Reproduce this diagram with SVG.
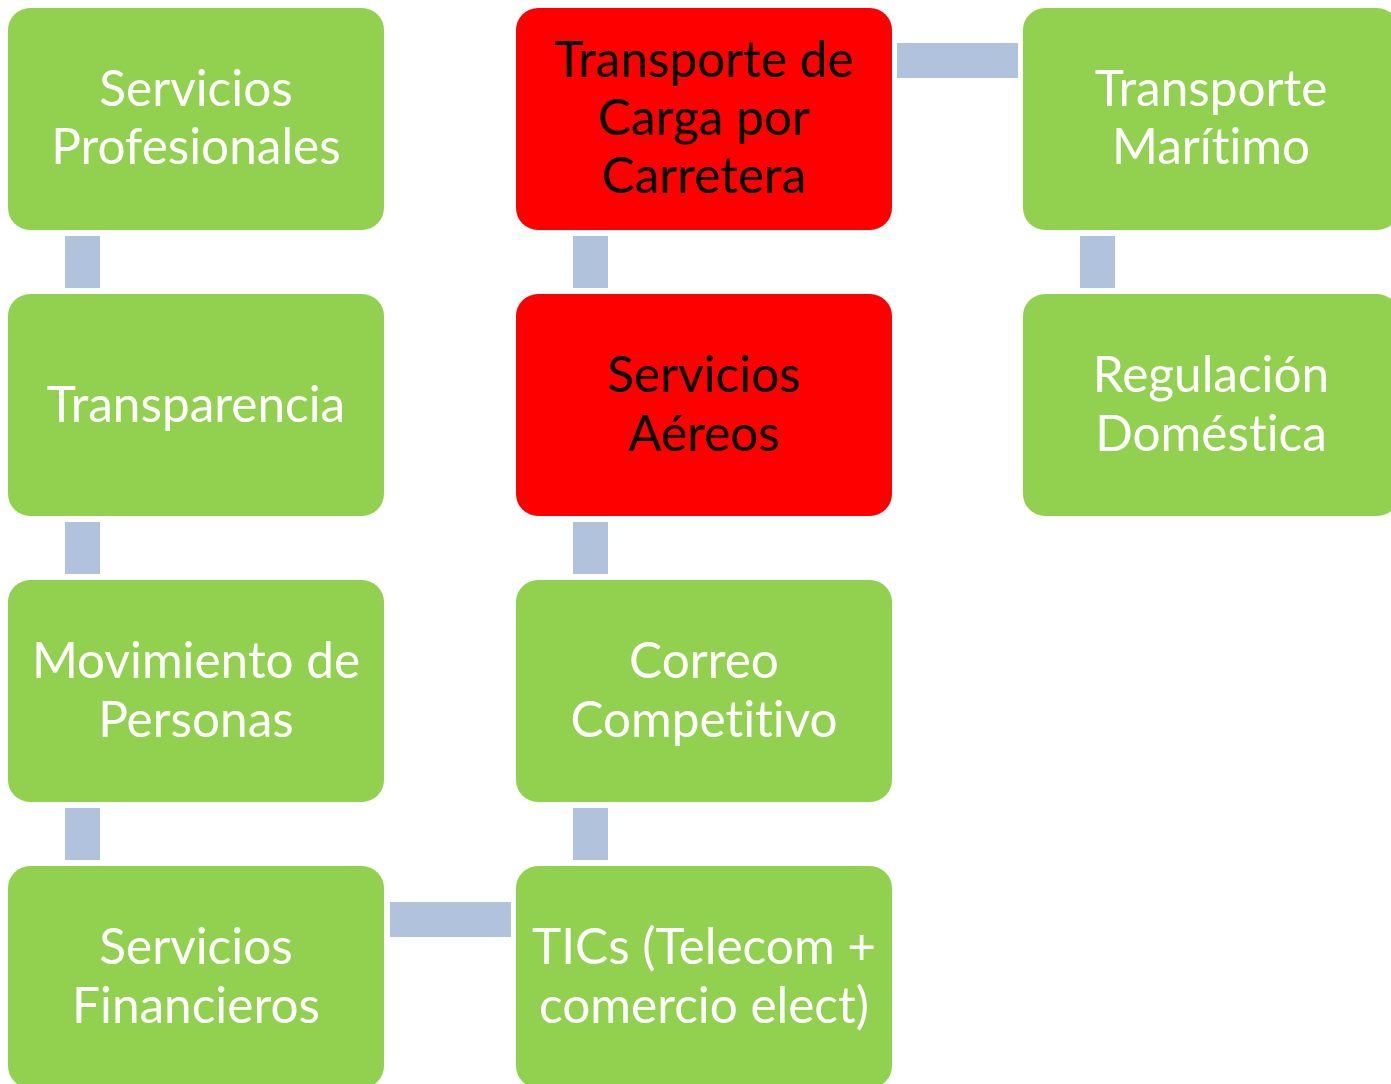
<svg xmlns="http://www.w3.org/2000/svg" width="1391" height="1084" viewBox="0 0 1391 1084">
<style>
.g{fill:#92D050}
.r{fill:#FF0000}
.c{fill:#B1C2DC}
text{font-family:Lato,"Liberation Sans",sans-serif;font-size:49.5px;text-anchor:middle;font-variant-ligatures:none;font-feature-settings:"liga" 0}
.w{fill:#FFFFFF}
.k{fill:#000000}
</style>
<rect width="1391" height="1084" fill="#FFFFFF"/>
<g id="connectors">
<rect class="c" x="65" y="236" width="35" height="52"/>
<rect class="c" x="65" y="522" width="35" height="52"/>
<rect class="c" x="65" y="808" width="35" height="52"/>
<rect class="c" x="573" y="236" width="35" height="52"/>
<rect class="c" x="573" y="522" width="35" height="52"/>
<rect class="c" x="573" y="808" width="35" height="52"/>
<rect class="c" x="1080" y="236" width="35" height="52"/>
<rect class="c" x="897" y="43" width="121" height="35"/>
<rect class="c" x="390" y="902" width="121" height="35"/>
</g>
<g id="n1"><rect class="g" x="8" y="8" width="376" height="222" rx="22"/>
<text class="w" x="196" y="106">Servicios</text><text class="w" x="196" y="164">Profesionales</text></g>
<g id="n2"><rect class="g" x="8" y="294" width="376" height="222" rx="22"/>
<text class="w" x="196" y="422">Transparencia</text></g>
<g id="n3"><rect class="g" x="8" y="580" width="376" height="222" rx="22"/>
<text class="w" x="196" y="678">Movimiento de</text><text class="w" x="196" y="737">Personas</text></g>
<g id="n4"><rect class="g" x="8" y="866" width="376" height="222" rx="22"/>
<text class="w" x="196" y="964">Servicios</text><text class="w" x="196" y="1023">Financieros</text></g>
<g id="n5"><rect class="r" x="516" y="8" width="376" height="222" rx="22"/>
<text class="k" x="704" y="77">Transporte de</text><text class="k" x="704" y="135">Carga por</text><text class="k" x="704" y="193">Carretera</text></g>
<g id="n6"><rect class="r" x="516" y="294" width="376" height="222" rx="22"/>
<text class="k" x="704" y="392">Servicios</text><text class="k" x="704" y="451">Aéreos</text></g>
<g id="n7"><rect class="g" x="516" y="580" width="376" height="222" rx="22"/>
<text class="w" x="704" y="678">Correo</text><text class="w" x="704" y="737">Competitivo</text></g>
<g id="n8"><rect class="g" x="516" y="866" width="376" height="222" rx="22"/>
<text class="w" x="704" y="964">TICs (Telecom +</text><text class="w" x="704" y="1023">comercio elect)</text></g>
<g id="n9"><rect class="g" x="1023" y="8" width="376" height="222" rx="22"/>
<text class="w" x="1211" y="106">Transporte</text><text class="w" x="1211" y="164">Marítimo</text></g>
<g id="n10"><rect class="g" x="1023" y="294" width="376" height="222" rx="22"/>
<text class="w" x="1211" y="392">Regulación</text><text class="w" x="1211" y="451">Doméstica</text></g>
</svg>
